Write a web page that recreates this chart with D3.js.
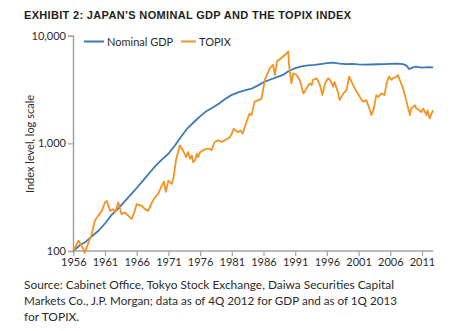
<!DOCTYPE html>
<html>
<head>
<meta charset="utf-8">
<script src="https://cdn.jsdelivr.net/npm/d3@7"></script>
<style>
  html, body { margin: 0; padding: 0; background: #fff; }
  svg { display: block; }
</style>
</head>
<body>
<svg id="chart" width="464" height="331"></svg>
<script>
// ---- Data ----
const gdpYears = [1956,1957,1958,1959,1960,1961,1962,1963,1964,1965,1966,1967,1968,1969,1970,1971,1972,1973,1974,1975,1976,1977,1978,1979,1980,1981,1982,1983,1984,1985,1986,1987,1988,1989,1990,1991,1992,1993,1994,1995,1996,1997,1998,1999,2000,2001,2002,2003,2004,2005,2006,2007,2008,2008.5,2009,2009.5,2010,2011,2012,2012.75];
const gdpValues = [100,113,122,138,155,180,215,245,285,330,385,450,530,620,710,800,950,1150,1380,1570,1780,1990,2150,2350,2600,2820,2980,3100,3200,3420,3700,3900,4100,4300,4700,5000,5200,5300,5350,5450,5560,5620,5500,5450,5480,5420,5380,5400,5430,5440,5480,5500,5450,5300,4900,5050,5150,5050,5100,5080];

const topixYears = [1956.0,1956.8,1957.6,1957.8,1958.4,1958.9,1959.4,1959.9,1960.5,1961.0,1961.3,1961.8,1962.3,1962.6,1963.1,1963.6,1964.1,1964.7,1965.2,1965.7,1966.0,1966.8,1967.3,1967.8,1968.4,1968.9,1969.4,1969.9,1970.3,1970.6,1971.0,1971.5,1971.8,1972.2,1972.8,1973.3,1973.8,1974.1,1974.4,1974.7,1974.9,1975.2,1975.5,1975.7,1976.0,1976.5,1977.0,1977.5,1977.8,1978.3,1978.9,1979.4,1979.9,1980.7,1981.0,1981.3,1981.6,1982.0,1982.4,1982.7,1983.3,1983.8,1984.1,1984.6,1985.2,1985.7,1986.2,1987.0,1987.5,1987.8,1988.1,1988.8,1989.4,1989.9,1990.0,1990.4,1990.7,1991.2,1991.7,1992.3,1992.8,1993.3,1993.6,1993.8,1994.4,1994.9,1995.3,1995.7,1996.2,1996.5,1997.0,1997.2,1997.8,1998.0,1998.6,1999.1,1999.5,1999.9,2000.4,2000.7,2001.2,2001.7,2002.2,2002.7,2003.0,2003.4,2003.8,2004.1,2004.6,2005.1,2005.4,2005.8,2006.2,2006.4,2007.0,2007.2,2007.8,2008.1,2008.5,2009.1,2009.3,2009.9,2010.1,2010.6,2010.9,2011.2,2011.7,2011.9,2012.2,2012.5,2012.75];
const topixValues = [100,125,104,96,120,143,191,212,236,283,292,236,245,228,283,220,228,212,198,236,273,263,245,236,283,315,339,400,440,355,451,420,480,700,956,860,745,830,720,770,670,694,800,745,830,860,890,890,860,1030,1070,1030,1070,1140,1230,1370,1320,1270,1320,1230,1580,1890,1830,2440,2520,2610,3890,4990,5350,4310,5750,6200,6650,7130,5550,3610,4480,4310,3890,2910,3240,3610,3480,3890,4020,3480,2810,3610,4020,3890,3360,3730,2910,2520,2910,3120,4170,3730,3240,3010,2700,2440,2520,2110,1830,2110,2810,2700,2910,2810,3610,4170,3890,4020,4170,4310,3480,3120,2520,1830,2110,2260,2110,2030,1950,2110,1830,2030,1700,1890,2030];

const xTickYears = [1956,1961,1966,1971,1976,1981,1986,1991,1996,2001,2006,2011];
const yTickValues = [100, 1000, 10000];

const titleText = "EXHIBIT 2: JAPAN\u2019S NOMINAL GDP AND THE TOPIX INDEX";
const yAxisLabel = "Index level, log scale";
const seriesNames = ["Nominal GDP", "TOPIX"];
const sourceLines = [
  "Source: Cabinet Office, Tokyo Stock Exchange, Daiwa Securities Capital",
  "Markets Co., J.P. Morgan; data as of 4Q 2012 for GDP and as of 1Q 2013",
  "for TOPIX."
];

// ---- Styles ----
const blue = "#3d78b8";
const orange = "#f39322";
const axisGray = "#a3a3a3";
const textColor = "#2b2b2b";
const font = "Lato, 'Open Sans', sans-serif";

const svg = d3.select("#chart");

const x = d3.scaleLinear().domain([1956, 2011]).range([73.3, 422]);
const y = d3.scaleLog().domain([100, 10000]).range([251, 35.7]);
const xEnd = 2012.75;

// Title
svg.append("text")
  .attr("x", 24).attr("y", 18.5)
  .attr("font-family", "'Liberation Sans', Arial, sans-serif")
  .attr("font-weight", "bold")
  .attr("font-size", 11)
  .attr("fill", "#231f20")
  .attr("textLength", 327)
  .attr("lengthAdjust", "spacing")
  .text(titleText);

// Y axis
const yAxis = d3.axisLeft(y)
  .tickValues(yTickValues)
  .tickFormat(d3.format(","))
  .tickSize(5)
  .tickPadding(2);
const gy = svg.append("g").attr("transform", "translate(73,0)").call(yAxis);
gy.select(".domain").attr("stroke", axisGray).attr("stroke-width", 1.5);
gy.selectAll(".tick line").attr("stroke", axisGray).attr("stroke-width", 1.2);
gy.selectAll(".tick text").attr("font-family", font).attr("font-size", 11).attr("fill", textColor);

// X axis
const xAxis = d3.axisBottom(x)
  .tickValues(xTickYears)
  .tickFormat(d3.format("d"))
  .tickSize(5)
  .tickPadding(2);
const gx = svg.append("g").attr("transform", "translate(0,251)").call(xAxis);
gx.select(".domain").attr("d", `M${x(1956)},0H${x(xEnd)}`).attr("stroke", axisGray).attr("stroke-width", 1.5);
gx.selectAll(".tick line").attr("stroke", axisGray).attr("stroke-width", 1.2);
gx.selectAll(".tick text").attr("font-family", font).attr("font-size", 11).attr("fill", textColor);

// Y axis label
svg.append("text")
  .attr("transform", "translate(34,144) rotate(-90)")
  .attr("text-anchor", "middle")
  .attr("font-family", font)
  .attr("font-size", 11)
  .attr("fill", textColor)
  .text(yAxisLabel);

// Lines
const gdpData = gdpYears.map((d, i) => [d, gdpValues[i]]);
const topixData = topixYears.map((d, i) => [d, topixValues[i]]);
const line = d3.line().x(d => x(d[0])).y(d => y(d[1]));

svg.append("path").datum(gdpData)
  .attr("d", line).attr("fill", "none")
  .attr("stroke", blue).attr("stroke-width", 1.8).attr("stroke-linejoin", "round");
svg.append("path").datum(topixData)
  .attr("d", line).attr("fill", "none")
  .attr("stroke", orange).attr("stroke-width", 1.8).attr("stroke-linejoin", "round");

// Legend
const legend = svg.append("g");
const legendItems = [
  { name: seriesNames[0], color: blue, x1: 84, x2: 104, tx: 107 },
  { name: seriesNames[1], color: orange, x1: 181, x2: 196, tx: 199 }
];
legendItems.forEach(it => {
  legend.append("line").attr("x1", it.x1).attr("x2", it.x2).attr("y1", 41.5).attr("y2", 41.5)
    .attr("stroke", it.color).attr("stroke-width", 2);
  legend.append("text").attr("x", it.tx).attr("y", 45.5)
    .attr("font-family", font).attr("font-size", 11).attr("fill", textColor).text(it.name);
});

// Source
sourceLines.forEach((s, i) => {
  const t = svg.append("text")
    .attr("x", 24).attr("y", 289 + i * 16)
    .attr("font-family", font).attr("font-size", 12).attr("fill", textColor)
    .text(s);
  if (i === 0) t.attr("textLength", 370).attr("lengthAdjust", "spacingAndGlyphs");
  if (i === 1) t.attr("textLength", 373).attr("lengthAdjust", "spacingAndGlyphs");
});
</script>
</body>
</html>
